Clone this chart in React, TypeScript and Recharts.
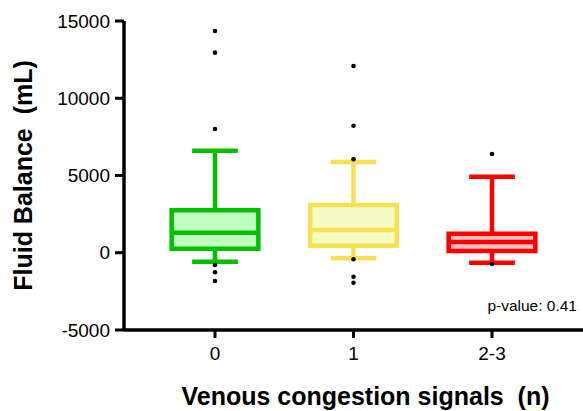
import React from "react";
import {
  ComposedChart,
  XAxis,
  YAxis,
  Scatter,
  ReferenceArea,
  ReferenceLine,
  Customized,
} from "recharts";

// groups on the x axis
const categories = ["0", "1", "2-3"];

// box statistics per group (mL)
const q1 = [260, 450, 110];
const median = [1300, 1470, 700];
const q3 = [2750, 3090, 1230];
const whiskerLow = [-580, -360, -640];
const whiskerHigh = [6600, 5870, 4920];

// points beyond the whiskers
const outliers0 = [14350, 12950, 8010, -790, -1265, -1830];
const outliers1 = [12090, 8220, 6050, -420, -1550, -1940];
const outliers2 = [6390, -730];

const yTicks = [-5000, 0, 5000, 10000, 15000];
const pValue = "p-value: 0.41";

const strokeColors = ["#00C000", "#F7E152", "#FF0000"];
const fillColors = ["#C0FFC0", "#F6FDC4", "#FFC0C0"];

const outlierPoints = [outliers0, outliers1, outliers2].flatMap((vals, i) =>
  vals.map((y) => ({ x: i, y }))
);

const FONT = "'Liberation Sans', Arial, sans-serif";
const BOX_HALF = 0.313;
const CAP_HALF = 0.165;
const LW = 4.5;

const XTitle = (props: any) => {
  const vb = props.viewBox || { x: 124, y: 330, width: 459, height: 81 };
  return (
    <text
      x={vb.x + vb.width / 2 + 12}
      y={vb.y + vb.height - 6}
      textAnchor="middle"
      fontSize={25}
      fontWeight={700}
      fill="#000"
      fontFamily={FONT}
      style={{ whiteSpace: "pre" }}
    >
      {"Venous congestion signals  (n)"}
    </text>
  );
};

const YTitle = (props: any) => {
  const vb = props.viewBox || { x: 0, y: 21, width: 124, height: 309 };
  const cx = 23;
  const cy = vb.y + vb.height / 2;
  return (
    <text
      x={cx}
      y={cy}
      dy="0.36em"
      transform={`rotate(-90, ${cx}, ${cy})`}
      textAnchor="middle"
      fontSize={25}
      fontWeight={700}
      fill="#000"
      fontFamily={FONT}
      style={{ whiteSpace: "pre" }}
    >
      {"Fluid Balance  (mL)"}
    </text>
  );
};

const PValueText = () => (
  <text x={577} y={311} textAnchor="end" fontSize={15.5} fill="#000" fontFamily={FONT}>
    {pValue}
  </text>
);

export default function App() {
  return (
    <div style={{ position: "absolute", left: 0, top: 0, background: "#fff" }}>
      <ComposedChart
        width={583}
        height={411}
        margin={{ top: 21, right: 0, bottom: 0, left: 0 }}
        style={{ fontFamily: FONT }}
      >
        <XAxis
          type="number"
          dataKey="x"
          domain={[-0.657, 2.657]}
          ticks={[0, 1, 2]}
          interval={0}
          allowDataOverflow
          tickFormatter={(v: number) => categories[v]}
          height={81}
          tickSize={8}
          tickMargin={9}
          axisLine={{ stroke: "#000", strokeWidth: 3.5 }}
          tickLine={{ stroke: "#000", strokeWidth: 3 }}
          tick={{ fill: "#000", fontSize: 19, fontFamily: FONT }}
          label={XTitle}
        />
        <YAxis
          type="number"
          dataKey="y"
          domain={[-5000, 15000]}
          ticks={yTicks}
          interval={0}
          allowDataOverflow
          width={124}
          tickSize={9}
          tickMargin={5}
          axisLine={{ stroke: "#000", strokeWidth: 3.5 }}
          tickLine={{ stroke: "#000", strokeWidth: 3 }}
          tick={{ fill: "#000", fontSize: 19, fontFamily: FONT }}
          label={YTitle}
        />

        {categories.map((c, i) => (
          <ReferenceLine
            key={`wu-${c}`}
            segment={[
              { x: i, y: q3[i] },
              { x: i, y: whiskerHigh[i] },
            ]}
            stroke={strokeColors[i]}
            strokeWidth={LW}
            ifOverflow="visible"
          />
        ))}
        {categories.map((c, i) => (
          <ReferenceLine
            key={`wl-${c}`}
            segment={[
              { x: i, y: whiskerLow[i] },
              { x: i, y: q1[i] },
            ]}
            stroke={strokeColors[i]}
            strokeWidth={LW}
            ifOverflow="visible"
          />
        ))}
        {categories.map((c, i) => (
          <ReferenceLine
            key={`cu-${c}`}
            segment={[
              { x: i - CAP_HALF, y: whiskerHigh[i] },
              { x: i + CAP_HALF, y: whiskerHigh[i] },
            ]}
            stroke={strokeColors[i]}
            strokeWidth={LW}
            ifOverflow="visible"
          />
        ))}
        {categories.map((c, i) => (
          <ReferenceLine
            key={`cl-${c}`}
            segment={[
              { x: i - CAP_HALF, y: whiskerLow[i] },
              { x: i + CAP_HALF, y: whiskerLow[i] },
            ]}
            stroke={strokeColors[i]}
            strokeWidth={LW}
            ifOverflow="visible"
          />
        ))}
        {categories.map((c, i) => (
          <ReferenceArea
            key={`box-${c}`}
            x1={i - BOX_HALF}
            x2={i + BOX_HALF}
            y1={q1[i]}
            y2={q3[i]}
            fill={fillColors[i]}
            fillOpacity={1}
            stroke={strokeColors[i]}
            strokeWidth={LW}
            ifOverflow="visible"
          />
        ))}
        {categories.map((c, i) => (
          <ReferenceLine
            key={`med-${c}`}
            segment={[
              { x: i - BOX_HALF, y: median[i] },
              { x: i + BOX_HALF, y: median[i] },
            ]}
            stroke={strokeColors[i]}
            strokeWidth={LW}
            ifOverflow="visible"
          />
        ))}

        <Scatter
          data={outlierPoints}
          dataKey="y"
          isAnimationActive={false}
          shape={(p: any) => <circle cx={p.cx} cy={p.cy} r={2.3} fill="#000" />}
        />
        <Customized component={PValueText} />
      </ComposedChart>
    </div>
  );
}
